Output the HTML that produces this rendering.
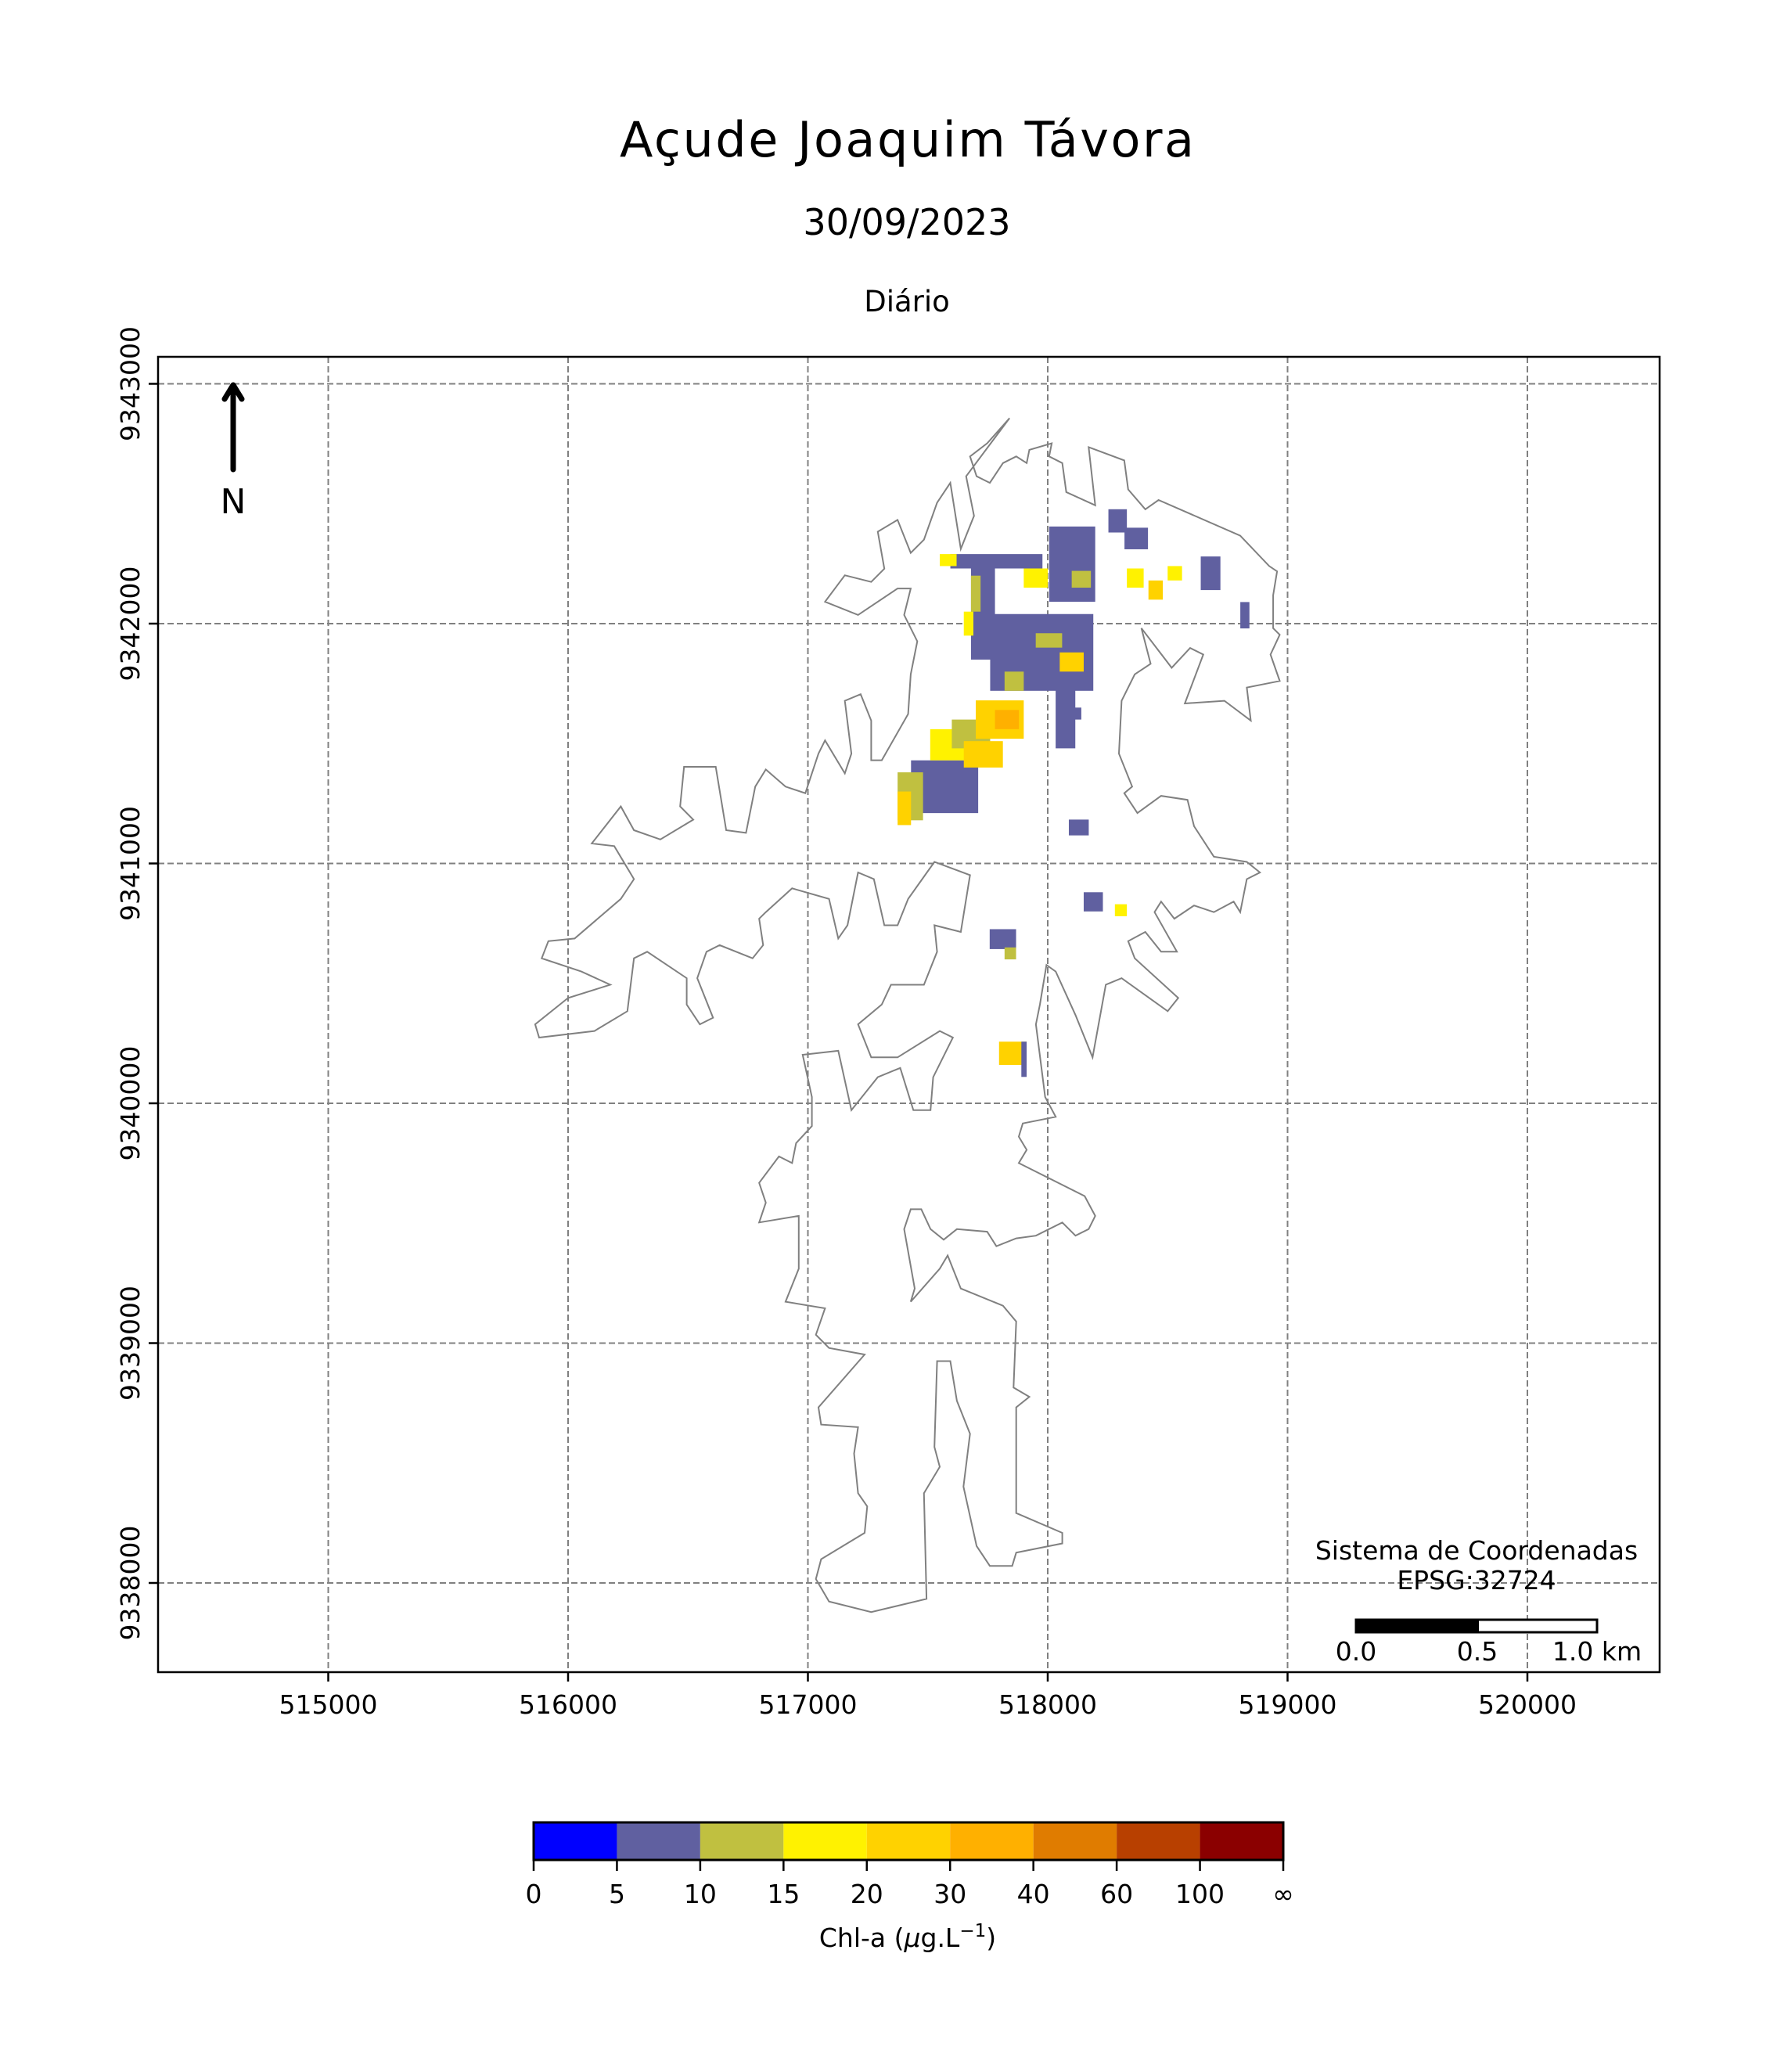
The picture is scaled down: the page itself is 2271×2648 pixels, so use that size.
<!DOCTYPE html>
<html><head><meta charset="utf-8"><style>
html,body{margin:0;padding:0;background:#fff;}
svg{display:block;font-family:"DejaVu Sans","Liberation Sans",sans-serif;}
</style></head><body>
<svg id="chart" width="2271" height="2648" viewBox="0 0 2271 2648" xmlns="http://www.w3.org/2000/svg">
<rect width="2271" height="2648" fill="#fff"/>
<text x="1159" y="200" font-size="62" text-anchor="middle" textLength="734">Açude Joaquim Távora</text>
<text x="1159" y="300" font-size="46" text-anchor="middle">30/09/2023</text>
<text x="1159" y="398" font-size="37" text-anchor="middle">Diário</text>
<defs><clipPath id="plotclip"><rect x="202" y="456" width="1919" height="1681"/></clipPath></defs>
<g id="grid"></g>
<g id="cells" clip-path="url(#plotclip)"></g>
<g id="shore" clip-path="url(#plotclip)"></g>
<rect x="202" y="456" width="1919" height="1681" fill="none" stroke="#000" stroke-width="2.5"/>
<g id="axes"></g>
<g>
<line x1="298" y1="600" x2="298" y2="500" stroke="#000" stroke-width="7" stroke-linecap="round"/>
<polyline points="287,510 298,492 309,510" fill="none" stroke="#000" stroke-width="7" stroke-linecap="round" stroke-linejoin="round"/>
<text x="298" y="656" font-size="44" text-anchor="middle">N</text>
</g>
<text x="1887" y="1993" font-size="33" text-anchor="middle">Sistema de Coordenadas</text>
<text x="1887" y="2031" font-size="33" text-anchor="middle">EPSG:32724</text>
<g>
<rect x="1733" y="2070" width="308" height="16" fill="#fff" stroke="#000" stroke-width="3"/>
<rect x="1733" y="2070" width="157" height="16" fill="#000"/>
<text x="1733" y="2122" font-size="33" text-anchor="middle">0.0</text>
<text x="1888" y="2122" font-size="33" text-anchor="middle">0.5</text>
<text x="2041" y="2122" font-size="33" text-anchor="middle">1.0 km</text>
</g>
<g id="cbar"></g>
<text x="1160" y="2488" font-size="33" text-anchor="middle">Chl-a (<tspan font-style="italic">μ</tspan>g.L<tspan baseline-shift="super" font-size="23">−1</tspan>)</text>
</svg>
<script>
const xTicks=[515000,516000,517000,518000,519000,520000];
const yTicks=[9343000,9342000,9341000,9340000,9339000,9338000];
const binLabels=["0","5","10","15","20","30","40","60","100","∞"];
const binColors=["#0000ff","#6060a0","#c0c040","#fff200","#ffd200","#ffb000","#e07c00","#b84000","#8b0000"];
// patches of chl-a class: [eastMin, eastMax, northMin, northMax, classIndex]
const patchE0=[517430,517374,517374,517510,517600,517700,517780,517650,517760,517820,517680,517680,517650,517594,517550,518006,518253,518320,518330,518420,518500,518638,518803,517758,517820,517797,517890,518088,518150,518280,518033,518080,517900,517950,518100,518050];
const patchE1=[517710,517480,517430,517700,517760,517900,517880,517813,518190,517900,517780,517720,517690,517978,517620,518198,518330,518418,518400,518480,518560,518720,518841,517868,517868,517912,517912,518171,518230,518330,518115,518140,518000,518060,518180,518150];
const patchN0=[9341210,9341180,9341160,9341430,9341480,9341520,9341560,9341400,9341720,9341720,9341850,9342050,9341950,9342230,9342240,9342091,9342380,9342310,9342150,9342100,9342180,9342140,9341980,9340643,9340600,9340160,9340110,9341117,9340800,9340780,9341480,9341600,9342150,9341900,9342150,9341800];
const patchN1=[9341430,9341380,9341300,9341560,9341600,9341680,9341640,9341510,9342040,9341800,9342250,9342200,9342050,9342290,9342290,9342405,9342477,9342400,9342230,9342180,9342240,9342280,9342090,9340726,9340650,9340257,9340257,9341183,9340880,9340830,9341733,9341650,9342230,9341960,9342220,9341880];
const patchCls=[1,2,4,3,2,4,5,4,1,2,1,2,3,1,3,1,1,1,3,4,3,1,1,1,2,4,1,1,1,3,1,1,3,2,2,4];
// reservoir shoreline traced (east offset units, north offset units relative to 515000/9343000)
const shoreU=[765,316,748,335,735,345,740,360,750,365,760,350,770,345,778,350,780,340,797,335,795,345,805,350,808,372,830,382,825,338,852,348,855,370,868,385,878,378,940,405,962,428,968,432,965,450,965,475,970,480,963,495,970,515,945,520,948,545,928,530,898,532,912,495,902,490,888,505,865,475,872,502,860,510,850,530,848,570,858,595,852,600,862,615,880,602,900,605,905,625,920,648,945,652,955,660,945,665,940,690,935,682,920,690,905,685,890,695,880,682,875,690,892,720,880,720,868,705,855,712,860,725,893,755,885,765,850,740,838,745,828,800,815,768,800,735,793,730,788,760,785,775,792,830,800,845,775,850,772,860,778,870,772,880,822,905,830,920,825,930,815,935,805,925,785,935,770,937,755,943,748,932,725,930,715,938,705,930,698,915,690,915,685,930,693,975,690,985,712,960,718,950,728,975,760,988,770,1000,768,1050,780,1057,770,1065,770,1145,805,1160,805,1168,770,1175,767,1185,750,1185,740,1170,730,1125,735,1085,725,1060,720,1030,710,1030,708,1095,712,1110,700,1130,702,1210,660,1220,628,1212,618,1195,622,1180,655,1160,657,1140,650,1130,647,1100,650,1080,622,1078,620,1065,655,1025,628,1020,618,1010,625,990,595,985,605,960,605,920,575,925,580,910,575,895,590,875,600,880,603,865,615,852,615,830,608,798,635,795,645,840,665,815,682,808,692,840,705,840,707,815,722,785,712,780,680,800,660,800,650,775,668,760,675,745,700,745,710,720,708,700,728,705,735,662,708,652,688,680,680,700,670,700,662,665,650,660,642,700,635,710,628,680,600,672,580,690,575,695,578,715,570,725,545,715,535,720,528,740,540,770,530,775,520,760,520,740,490,720,480,725,475,765,450,780,408,785,405,775,430,755,462,745,440,735,410,725,415,712,435,710,470,680,480,665,465,640,448,638,470,610,480,628,500,635,525,620,515,610,518,580,542,580,550,628,565,630,572,595,580,582,595,595,610,600,620,570,625,560,640,585,645,570,640,530,652,525,660,545,660,575,668,575,688,540,690,510,695,485,685,465,690,445,680,445,650,465,625,455,640,435,660,440,670,430,665,402,680,393,690,418,700,408,710,380,720,365,728,415,738,390,732,360,765,316];
const X0=419.5, XS=0.3065, E0=515000, Y0=490.5, N0=9343000;
function xs(e){return X0+(e-E0)*XS;}
function ys(n){return Y0+(N0-n)*XS;}
const NS="http://www.w3.org/2000/svg";
function mk(t,a,p){const el=document.createElementNS(NS,t);for(const k in a)el.setAttribute(k,a[k]);p.appendChild(el);return el;}
const grid=document.getElementById('grid'),axes=document.getElementById('axes');
xTicks.forEach(v=>{const x=xs(v);
 const g=mk('line',{x1:x,x2:x,y1:456,y2:2137,stroke:'#808080','stroke-width':2,'stroke-dasharray':'8,4'},grid);
 
 const t=mk('line',{x1:x,x2:x,y1:2137,y2:2149,stroke:'#000','stroke-width':2.5},axes);
 
 const l=mk('text',{x:x,y:2190,'font-size':33,'text-anchor':'middle'},axes);l.textContent=v;
 });
yTicks.forEach(v=>{const y=ys(v);
 const g=mk('line',{x1:202,x2:2121,y1:y,y2:y,stroke:'#808080','stroke-width':2,'stroke-dasharray':'8,4'},grid);
 
 const t=mk('line',{x1:190,x2:202,y1:y,y2:y,stroke:'#000','stroke-width':2.5},axes);
 
 const l=mk('text',{x:0,y:0,'font-size':33,'text-anchor':'middle',transform:`translate(178,${y}) rotate(-90)`},axes);l.textContent=v;
 });
const cells=document.getElementById('cells');
patchCls.forEach((c,i)=>{const x1=xs(patchE0[i]),x2=xs(patchE1[i]),y1=ys(patchN1[i]),y2=ys(patchN0[i]);
 const r=mk('rect',{x:x1,y:y1,width:x2-x1,height:y2-y1,fill:binColors[c]},cells);
 });
let pts=[];for(let i=0;i<shoreU.length;i+=2){const e=E0+(shoreU[i]-248)*5.495,n=N0-(shoreU[i+1]-290)*5.507;pts.push(xs(e).toFixed(1)+','+ys(n).toFixed(1));}
const sh=mk('polygon',{points:pts.join(' '),fill:'none',stroke:'#808080','stroke-width':2},document.getElementById('shore'));

const cb=document.getElementById('cbar');const cx0=682,cx1=1640,cy0=2329,cy1=2377,w=(cx1-cx0)/binColors.length;
binColors.forEach((c,i)=>{const r=mk('rect',{x:cx0+i*w,y:cy0,width:w,height:cy1-cy0,fill:c},cb);
 });
mk('rect',{x:cx0,y:cy0,width:cx1-cx0,height:cy1-cy0,fill:'none',stroke:'#000','stroke-width':3},cb);
binLabels.forEach((s,i)=>{const x=cx0+i*w;
 const t=mk('line',{x1:x,x2:x,y1:cy1,y2:cy1+14,stroke:'#000','stroke-width':2.5},cb);
 
 const l=mk('text',{x:x,y:2432,'font-size':33,'text-anchor':'middle'},cb);l.textContent=s;
 });
</script>
</body></html>
